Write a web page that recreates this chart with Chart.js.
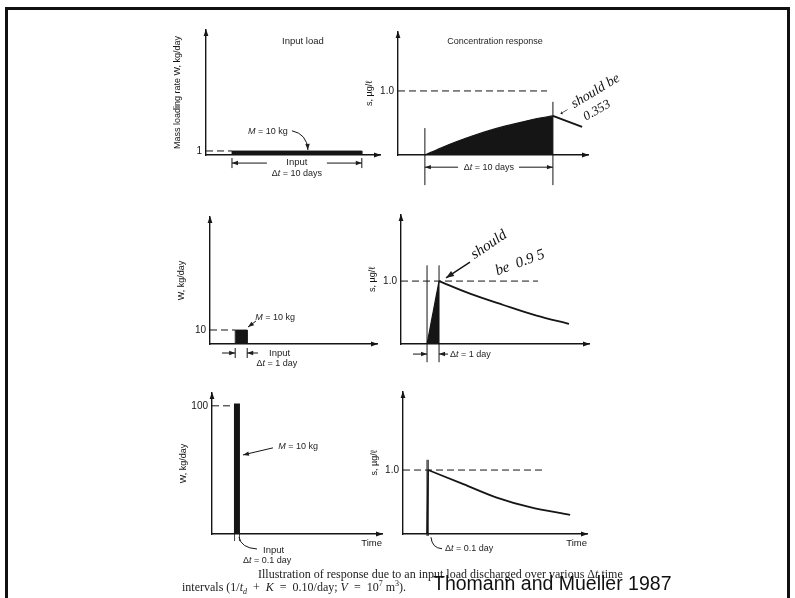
<!DOCTYPE html>
<html>
<head>
<meta charset="utf-8">
<script src="https://cdn.jsdelivr.net/npm/chart.js@4.4.1/dist/chart.umd.min.js"></script>
<style>
  body { margin: 0; background: #fff; width: 795px; height: 598px; overflow: hidden; position: relative; font-family: "Liberation Sans", Arial, sans-serif; }
  #frame { position: absolute; left: 5px; top: 7px; width: 779px; height: 640px; border: 3px solid #111; border-bottom: none; }
  canvas { position: absolute; }
  .cap { position: absolute; font-family: "Liberation Serif", "Times New Roman", serif; font-size: 12px; line-height: 13px; color: #222; white-space: nowrap; }
  .cap sub, .cap sup { font-size: 8px; line-height: 0; }
  #src { position: absolute; left: 433px; top: 573px; font-size: 19.5px; line-height: 20px; color: #111; white-space: nowrap; }
</style>
</head>
<body>
<div id="frame"></div>
<canvas id="tl"></canvas>
<canvas id="tr"></canvas>
<canvas id="ml"></canvas>
<canvas id="mr"></canvas>
<canvas id="bl"></canvas>
<canvas id="br"></canvas>
<div class="cap" style="left:258px;top:568px">Illustration of response due to an input load discharged over various &Delta;<i>t</i> time</div>
<div class="cap" style="left:182px;top:581px">intervals (1/<i>t<sub>d</sub></i>&ensp;+&ensp;<i>K</i>&ensp;=&ensp;0.10/day; <i>V</i>&ensp;=&ensp;10<sup>7</sup> m<sup>3</sup>).</div>
<div id="src">Thomann and Mueller 1987</div>
<script>
// top row: 1 kg/day over 10 days
const loadTimeA = [2, 12];
const loadRateA = [1, 1];
const respTimeA = [2.1, 3.35, 4.6, 5.85, 7.1, 8.35, 9.6, 10.85, 12.1];
const respConcA = [0, 0.11, 0.21, 0.30, 0.38, 0.45, 0.51, 0.57, 0.61];
const handTimeA = [12.1, 14.38];
const handConcA = [0.61, 0.44];

// middle row: 10 kg/day over 1 day
const loadTimeB = [2.1, 3.1];
const loadRateB = [10, 10];
const riseTimeB = [2.17, 3.17];
const riseConcB = [0, 1.0];
const decayTimeB = [3.17, 5.75, 8.53, 11.3, 14.0];
const decayConcB = [1.0, 0.80, 0.62, 0.45, 0.32];

// bottom row: 100 kg/day over 0.1 day
const loadTimeC = [2.03, 2.13];
const loadRateC = [100, 100];
const riseTimeC = [2.0, 2.1];
const riseConcC = [0, 1.0];
const decayTimeC = [2.1, 5.03, 7.81, 10.58, 13.92];
const decayConcC = [1.0, 0.78, 0.57, 0.42, 0.30];

const tickVals = { tl: [1], tr: [1], ml: [10], mr: [1], bl: [100], br: [1] };
const tickText = { tl: ["1"], tr: ["1.0"], ml: ["10"], mr: ["1.0"], bl: ["100"], br: ["1.0"] };

const ink = "#151515";
const FAM = '"Liberation Sans", Arial, sans-serif';

const pts = (xs, ys) => xs.map((x, i) => ({ x, y: ys[i] }));
const block = (ts, rs) => [{ x: ts[0], y: 0 }, { x: ts[0], y: rs[0] }, { x: ts[1], y: rs[1] }, { x: ts[1], y: 0 }];
const line = (data, o) => Object.assign({ data, showLine: true, pointRadius: 0, borderColor: ink, borderWidth: 1.2, fill: false, clip: false, tension: 0 }, o || {});
const dash = (x1, y) => line([{ x: 0, y }, { x: x1, y }], { borderDash: [7, 4], borderWidth: 1 });
const guide = (x, y1, y2) => line([{ x, y: y1 }, { x, y: y2 }], { borderWidth: 1 });

function head(ctx, x0, y0, x1, y1, len, hw) {
  const a = Math.atan2(y1 - y0, x1 - x0);
  ctx.beginPath();
  ctx.moveTo(x1, y1);
  ctx.lineTo(x1 - len * Math.cos(a) + hw * Math.sin(a), y1 - len * Math.sin(a) - hw * Math.cos(a));
  ctx.lineTo(x1 - len * Math.cos(a) - hw * Math.sin(a), y1 - len * Math.sin(a) + hw * Math.cos(a));
  ctx.closePath();
  ctx.fill();
}

function rich(ctx, str, x, y, size, align) {
  const parts = str.split("_");
  const fonts = parts.map((s, i) => (i % 2 ? "italic " : "") + size + "px " + FAM);
  let w = 0;
  const ws = parts.map((s, i) => { ctx.font = fonts[i]; const m = ctx.measureText(s).width; w += m; return m; });
  let cx = align === "center" ? x - w / 2 : align === "right" ? x - w : x;
  ctx.textAlign = "left";
  ctx.textBaseline = "middle";
  parts.forEach((s, i) => { ctx.font = fonts[i]; ctx.fillText(s, cx, y); cx += ws[i]; });
}

const axisArrows = {
  id: "axisArrows",
  afterDraw(chart) {
    const { ctx, chartArea: a } = chart;
    ctx.save();
    ctx.fillStyle = ink;
    head(ctx, a.left, a.top + 10, a.left, a.top - 1, 7, 2.4);
    head(ctx, a.right - 10, a.bottom, a.right + 1, a.bottom, 7, 2.4);
    ctx.restore();
  }
};

function notes(items) {
  return {
    id: "notes",
    afterDraw(chart) {
      const { ctx, scales: { x, y } } = chart;
      const P = (p) => [x.getPixelForValue(p[0]), y.getPixelForValue(p[1])];
      ctx.save();
      ctx.fillStyle = "#1e1e1e";
      ctx.strokeStyle = ink;
      items.forEach((it) => {
        if (it.k === "text") {
          const [px, py] = P(it.at);
          rich(ctx, it.s, px, py, it.size || 9, it.align || "center");
        } else if (it.k === "line") {
          const q = it.pts.map(P);
          ctx.lineWidth = it.w || 1;
          ctx.beginPath();
          q.forEach((p, i) => (i ? ctx.lineTo(p[0], p[1]) : ctx.moveTo(p[0], p[1])));
          ctx.stroke();
          if (it.head) { const n = q.length; head(ctx, q[n - 2][0], q[n - 2][1], q[n - 1][0], q[n - 1][1], it.hl || 6, it.hw || 2.2); }
        } else if (it.k === "curve") {
          const q = it.pts.map(P);
          ctx.lineWidth = it.w || 1;
          ctx.beginPath();
          ctx.moveTo(q[0][0], q[0][1]);
          ctx.quadraticCurveTo(q[1][0], q[1][1], q[2][0], q[2][1]);
          ctx.stroke();
          if (it.head) head(ctx, q[1][0], q[1][1], q[2][0], q[2][1], 6, 2.2);
        } else if (it.k === "hand") {
          const [px, py] = P(it.at);
          ctx.save();
          ctx.translate(px, py);
          ctx.rotate(it.deg * Math.PI / 180);
          ctx.font = "italic " + (it.size || 14) + 'px "Liberation Serif", serif';
          ctx.textAlign = "left";
          ctx.textBaseline = "middle";
          ctx.fillStyle = "#111";
          ctx.fillText(it.s, 0, 0);
          ctx.restore();
        }
      });
      ctx.restore();
    }
  };
}

const panels = [
  {
    id: "tl", L: 206, T: 30, R: 380, B: 155, xMax: 13.4, yMax: 31,
    yTitle: "Mass loading rate W, kg/day",
    sets: [
      line(block(loadTimeA, loadRateA), { fill: "origin", backgroundColor: ink, borderWidth: 0.8 }),
      dash(loadTimeA[0], loadRateA[0])
    ],
    notes: [
      { k: "text", at: [7.46, 28.25], s: "Input load", size: 9.5 },
      { k: "text", at: [4.77, 5.75], s: "_M_ = 10 kg" },
      { k: "curve", pts: [[6.62, 6.0], [7.77, 5.25], [7.85, 1.25]], head: true },
      { k: "line", pts: [[4.69, -2], [2, -2]], head: true },
      { k: "line", pts: [[9.31, -2], [12, -2]], head: true },
      { k: "line", pts: [[2, -0.75], [2, -3.25]] },
      { k: "line", pts: [[12, -0.75], [12, -3.25]] },
      { k: "text", at: [7, -1.75], s: "Input", size: 9.5 },
      { k: "text", at: [7, -4.5], s: "Δ_t_ = 10 days" }
    ]
  },
  {
    id: "tr", L: 398, T: 32, R: 588, B: 155, xMax: 14.84, yMax: 1.92,
    yTitle: "s, µg/ℓ",
    sets: [
      line(pts(respTimeA, respConcA), { fill: "origin", backgroundColor: ink, cubicInterpolationMode: "monotone" }),
      line(pts(handTimeA, handConcA), { borderWidth: 2 }),
      dash(11.64, 1),
      guide(respTimeA[0], -0.47, 0.42),
      guide(respTimeA[respTimeA.length - 1], -0.47, 0.83)
    ],
    notes: [
      { k: "text", at: [7.58, 1.77], s: "Concentration response" },
      { k: "line", pts: [[4.69, -0.19], [2.1, -0.19]], head: true },
      { k: "line", pts: [[9.45, -0.19], [12.1, -0.19]], head: true },
      { k: "text", at: [7.1, -0.19], s: "Δ_t_ = 10 days" },
      { k: "hand", at: [12.45, 0.64], s: "← should be", deg: -31, size: 14 },
      { k: "hand", at: [14.55, 0.58], s: "0.353", deg: -30, size: 13 }
    ]
  },
  {
    id: "ml", L: 210, T: 217, R: 377, B: 344, xMax: 13.92, yMax: 90.7,
    yTitle: "W, kg/day",
    sets: [
      line(block(loadTimeB, loadRateB), { fill: "origin", backgroundColor: ink, borderWidth: 0.8 }),
      dash(loadTimeB[0], loadRateB[0])
    ],
    notes: [
      { k: "text", at: [5.42, 18.6], s: "_M_ = 10 kg" },
      { k: "line", pts: [[3.83, 16.4], [3.17, 12.1]], head: true },
      { k: "line", pts: [[1.0, -6.43], [2.1, -6.43]], head: true },
      { k: "line", pts: [[4.0, -6.43], [3.1, -6.43]], head: true },
      { k: "line", pts: [[2.1, -2.86], [2.1, -10]] },
      { k: "line", pts: [[3.1, -2.86], [3.1, -10]] },
      { k: "text", at: [4.92, -6.43], s: "Input", size: 9.5, align: "left" },
      { k: "text", at: [5.58, -13.6], s: "Δ_t_ = 1 day" }
    ]
  },
  {
    id: "mr", L: 401, T: 215, R: 589, B: 344, xMax: 15.67, yMax: 2.05,
    yTitle: "s, µg/ℓ",
    sets: [
      line(pts(riseTimeB, riseConcB), { fill: "origin", backgroundColor: ink }),
      line(pts(decayTimeB, decayConcB), { borderWidth: 1.8, cubicInterpolationMode: "monotone" }),
      dash(11.42, 1),
      guide(riseTimeB[0], -0.29, 1.25),
      guide(riseTimeB[1], -0.29, 1.25)
    ],
    notes: [
      { k: "line", pts: [[1.0, -0.16], [2.17, -0.16]], head: true },
      { k: "line", pts: [[3.92, -0.16], [3.17, -0.16]], head: true },
      { k: "text", at: [4.08, -0.16], s: "Δ_t_ = 1 day", align: "left" },
      { k: "line", pts: [[5.75, 1.30], [3.75, 1.05]], head: true, w: 1.4, hl: 8, hw: 3 },
      { k: "hand", at: [5.95, 1.40], s: "should", deg: -34, size: 15 },
      { k: "hand", at: [7.9, 1.15], s: "be  0.9 5", deg: -20, size: 15 }
    ]
  },
  {
    id: "bl", L: 212, T: 393, R: 382, B: 534, xMax: 14.17, yMax: 110,
    yTitle: "W, kg/day", xTitle: "Time",
    sets: [
      line(block(loadTimeC, loadRateC), { fill: "origin", backgroundColor: ink, borderWidth: 4.8 }),
      dash(1.85, loadRateC[0])
    ],
    notes: [
      { k: "text", at: [7.17, 68], s: "_M_ = 10 kg" },
      { k: "line", pts: [[5.08, 67.2], [2.58, 61.7]], head: true },
      { k: "curve", pts: [[2.25, -2.3], [2.42, -10.9], [3.75, -11.7]] },
      { k: "line", pts: [[1.88, 0], [1.88, -5.5]], w: 0.8 },
      { k: "line", pts: [[2.29, 0], [2.29, -5.5]], w: 0.8 },
      { k: "text", at: [4.25, -12.5], s: "Input", size: 9.5, align: "left" },
      { k: "text", at: [2.58, -20.3], s: "Δ_t_ = 0.1 day", align: "left" }
    ]
  },
  {
    id: "br", L: 403, T: 392, R: 587, B: 534, xMax: 15.33, yMax: 2.22,
    yTitle: "s, µg/ℓ", xTitle: "Time",
    sets: [
      line(pts(riseTimeC, riseConcC), { fill: "origin", backgroundColor: ink, borderWidth: 1.5 }),
      line(pts(decayTimeC, decayConcC), { borderWidth: 1.8, cubicInterpolationMode: "monotone" }),
      dash(11.83, 1),
      guide(riseTimeC[0], -0.03, 1.16),
      guide(riseTimeC[1], -0.03, 1.16)
    ],
    notes: [
      { k: "curve", pts: [[2.33, -0.05], [2.42, -0.22], [3.25, -0.23]] },
      { k: "text", at: [3.5, -0.23], s: "Δ_t_ = 0.1 day", align: "left" }
    ]
  }
];

panels.forEach((p) => {
  const cv = document.getElementById(p.id);
  cv.width = p.R - p.L + 95;
  cv.height = p.B - p.T + 65;
  cv.style.left = (p.L - 45) + "px";
  cv.style.top = (p.T - 20) + "px";
  new Chart(cv, {
    type: "scatter",
    data: { datasets: p.sets },
    options: {
      responsive: false,
      animation: false,
      devicePixelRatio: 1,
      layout: { padding: { left: 11, top: 20, right: 50, bottom: 30 } },
      plugins: { legend: { display: false }, tooltip: { enabled: false } },
      scales: {
        x: {
          type: "linear", min: 0, max: p.xMax,
          grid: { display: false, drawTicks: false },
          border: { color: ink, width: 1.4 },
          ticks: { display: false },
          title: { display: !!p.xTitle, text: p.xTitle || "", align: "end", padding: 0, color: ink, font: { size: 9.5, family: FAM } },
          afterFit: (s) => { s.height = 15; }
        },
        y: {
          type: "linear", min: 0, max: p.yMax,
          grid: { display: false, drawTicks: false },
          border: { color: ink, width: 1.4 },
          ticks: { padding: 4, color: ink, font: { size: 10, family: FAM }, callback: (v, i) => tickText[p.id][i] },
          afterBuildTicks: (s) => { s.ticks = tickVals[p.id].map((v) => ({ value: v })); },
          title: { display: true, text: p.yTitle, padding: 0, color: ink, font: { size: 9, family: FAM } },
          afterFit: (s) => { s.width = 34; }
        }
      }
    },
    plugins: [axisArrows, notes(p.notes)]
  });
});
</script>
</body>
</html>
